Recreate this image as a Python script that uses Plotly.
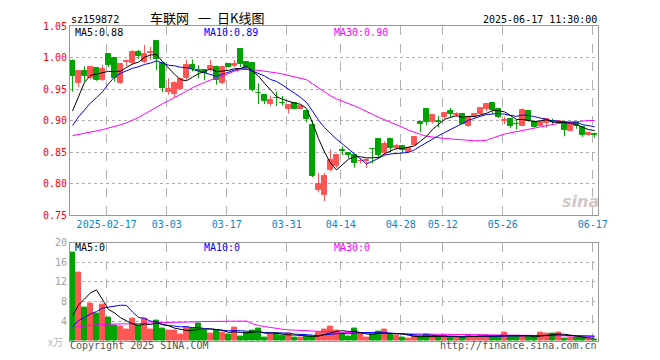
import plotly.graph_objects as go
import pandas as pd

# ---------------- data ----------------
dates = ("02-07 02-10 02-11 02-12 02-13 02-14 02-17 02-18 02-19 02-20 02-21 02-24 02-25 02-26 02-27 02-28 "
         "03-03 03-04 03-05 03-06 03-07 03-10 03-11 03-12 03-13 03-14 03-17 03-18 03-19 03-20 03-21 "
         "03-24 03-25 03-26 03-27 03-28 03-31 04-01 04-02 04-03 04-07 04-08 04-09 04-10 04-11 "
         "04-14 04-15 04-16 04-17 04-18 04-21 04-22 04-23 04-24 04-25 04-28 04-29 04-30 "
         "05-06 05-07 05-08 05-09 05-12 05-13 05-14 05-15 05-16 05-19 05-20 05-21 05-22 05-23 "
         "05-26 05-27 05-28 05-29 05-30 06-03 06-04 06-05 06-06 06-09 06-10 06-11 06-12 06-13 "
         "06-16 06-17").split()

open_ = [0.994, 0.960, 0.979, 0.967, 0.984, 0.965, 1.005, 1.000, 0.959, 0.993,
         0.992, 1.008, 0.993, 1.007, 1.026, 0.992, 0.946, 0.942, 0.950, 0.967,
         0.988, 0.980, 0.980, 0.981, 0.985, 0.960, 0.990, 0.987, 1.013, 0.993,
         0.991, 0.944, 0.940, 0.926, 0.936, 0.928, 0.918, 0.927, 0.919, 0.915,
         0.893, 0.790, 0.782, 0.821, 0.827, 0.853, 0.849, 0.846, 0.835, 0.836,
         0.855, 0.871, 0.848, 0.871, 0.857, 0.859, 0.850, 0.861, 0.897, 0.918,
         0.897, 0.899, 0.906, 0.915, 0.909, 0.911, 0.892, 0.907, 0.910, 0.919,
         0.927, 0.918, 0.900, 0.902, 0.895, 0.892, 0.915, 0.898, 0.892, 0.896,
         0.900, 0.897, 0.897, 0.884, 0.896, 0.890, 0.877, 0.878]
high = [0.997, 0.979, 0.986, 0.986, 0.985, 0.988, 1.006, 1.001, 0.990, 0.997,
        1.012, 1.012, 1.020, 1.017, 1.026, 0.993, 0.967, 0.962, 0.967, 0.996,
        0.997, 0.988, 0.981, 0.996, 0.987, 0.987, 0.991, 0.996, 1.013, 0.994,
        0.992, 0.959, 0.941, 0.939, 0.946, 0.939, 0.925, 0.928, 0.925, 0.916,
        0.900, 0.817, 0.817, 0.854, 0.847, 0.859, 0.850, 0.847, 0.840, 0.840,
        0.856, 0.872, 0.867, 0.872, 0.863, 0.860, 0.857, 0.875, 0.899, 0.918,
        0.909, 0.907, 0.913, 0.920, 0.913, 0.912, 0.907, 0.912, 0.921, 0.928,
        0.928, 0.920, 0.906, 0.903, 0.901, 0.919, 0.916, 0.899, 0.898, 0.904,
        0.903, 0.900, 0.898, 0.895, 0.897, 0.891, 0.881, 0.881]
low = [0.946, 0.953, 0.962, 0.965, 0.963, 0.963, 0.985, 0.962, 0.958, 0.986,
       0.989, 0.998, 0.991, 0.996, 0.980, 0.945, 0.941, 0.936, 0.949, 0.964,
       0.978, 0.967, 0.964, 0.978, 0.957, 0.958, 0.984, 0.985, 0.985, 0.981,
       0.946, 0.926, 0.926, 0.923, 0.923, 0.924, 0.911, 0.918, 0.918, 0.897,
       0.810, 0.786, 0.772, 0.819, 0.825, 0.845, 0.840, 0.825, 0.832, 0.825,
       0.832, 0.842, 0.845, 0.850, 0.853, 0.849, 0.849, 0.860, 0.881, 0.893,
       0.895, 0.889, 0.903, 0.905, 0.906, 0.894, 0.890, 0.905, 0.909, 0.915,
       0.911, 0.904, 0.894, 0.888, 0.886, 0.891, 0.898, 0.889, 0.891, 0.889,
       0.893, 0.895, 0.875, 0.883, 0.887, 0.874, 0.876, 0.873]
close = [0.970, 0.978, 0.970, 0.985, 0.965, 0.982, 0.988, 0.967, 0.990, 0.994,
         1.009, 1.003, 1.006, 1.008, 0.998, 0.952, 0.950, 0.959, 0.966, 0.988,
         0.981, 0.978, 0.976, 0.987, 0.965, 0.985, 0.985, 0.989, 0.989, 0.983,
         0.949, 0.943, 0.931, 0.932, 0.935, 0.927, 0.925, 0.919, 0.923, 0.902,
         0.812, 0.800, 0.8125, 0.837, 0.846, 0.851, 0.846, 0.833, 0.836, 0.837,
         0.854, 0.846, 0.863, 0.857, 0.859, 0.853, 0.856, 0.874, 0.894, 0.897,
         0.908, 0.898, 0.912, 0.910, 0.910, 0.895, 0.906, 0.910, 0.920, 0.926,
         0.917, 0.905, 0.9005, 0.892, 0.894, 0.917, 0.899, 0.890, 0.897, 0.903,
         0.898, 0.899, 0.885, 0.894, 0.892, 0.877, 0.880, 0.877]
volume = [18.0, 14.0, 6.7, 7.7, 5.5, 7.5, 4.7, 3.1, 2.9, 2.3,
          4.5, 3.1, 4.5, 2.3, 4.1, 2.5, 2.1, 2.1, 1.3, 2.7,
          2.5, 3.5, 2.1, 1.5, 2.1, 1.7, 1.3, 2.7, 0.9, 1.7,
          2.1, 2.5, 0.7, 1.3, 1.5, 1.1, 1.5, 0.7, 0.7, 0.9,
          0.9, 1.7, 2.3, 2.9, 2.1, 1.5, 0.9, 2.5, 1.5, 0.7,
          1.3, 1.9, 2.3, 1.3, 1.1, 0.7, 0.5, 1.1, 0.9, 1.3,
          1.1, 0.7, 1.1, 0.7, 0.9, 0.7, 1.1, 0.9, 1.1, 1.1,
          0.9, 0.9, 1.7, 0.9, 0.9, 0.9, 0.9, 0.7, 1.7, 1.5,
          1.5, 1.7, 0.5, 0.7, 0.7, 0.7, 0.5, 0.3]

# history before the visible window, estimated from where the MA lines start
prior_close = [0.925, 0.93, 0.92, 0.915, 0.91, 0.905, 0.90, 0.905, 0.90, 0.90,
               0.86, 0.84, 0.83, 0.82, 0.815, 0.81, 0.815, 0.82, 0.82, 0.82,
               0.84, 0.86, 0.875, 0.88, 0.89, 0.86, 0.86, 0.93, 0.955]
prior_volume = [3.2, 4.0, 3.8, 3.4, 3.6, 3.7, 3.5,
                2.4, 2.0, 1.8, 2.2, 1.6, 1.9, 2.1, 1.7, 1.8, 2.0, 1.6, 1.9, 1.8,
                0.5, 0.4, 0.6, 0.5, 0.5,
                2.8, 0.8, 1.3, 2.6]

tick_dates = ["02-17", "03-03", "03-17", "03-31", "04-14", "04-28", "05-12", "05-26", "06-17"]
tick_labels = ["2025-02-17", "03-03", "03-17", "03-31", "04-14", "04-28", "05-12", "05-26", "06-17"]
price_ticks = [0.75, 0.80, 0.85, 0.90, 0.95, 1.00, 1.05]
vol_ticks = [4, 8, 12, 16, 20]

# ---------------- styling ----------------
RED = "#ff5555"
GREEN = "#00a400"
GRID = "#b0b0b0"
BORDER = "#999999"
XLAB = "#0a84d2"
MONO = "DejaVu Sans Mono"
CJK = "Noto Sans CJK SC"
OFF = 8                      # the page places the figure 8 px in from the top-left
W, H = 660 - OFF, 360 - OFF
L, R, T, B = 62, 62, 12, 19
PW, PH = W - L - R, H - T - B

n = len(dates)
xs = list(range(n))
up = [c >= o for o, c in zip(open_, close)]

cl = pd.Series(prior_close + close)
vo = pd.Series(prior_volume + volume)
k = len(prior_close)
ma = {w: cl.rolling(w).mean().iloc[k:].tolist() for w in (5, 10, 30)}
vma = {w: vo.rolling(w).mean().iloc[k:].tolist() for w in (5, 10, 30)}

fig = go.Figure()

# wicks
for flag, col in ((True, RED), (False, GREEN)):
    wx, wy = [], []
    for i in xs:
        if up[i] == flag:
            wx += [i, i, None]
            wy += [low[i], high[i], None]
    fig.add_trace(go.Scatter(x=wx, y=wy, mode="lines", line=dict(color=col, width=1),
                             hoverinfo="skip", xaxis="x", yaxis="y"))

# bodies
for flag, col in ((True, RED), (False, GREEN)):
    idx = [i for i in xs if up[i] == flag]
    fig.add_trace(go.Bar(
        x=idx,
        base=[min(open_[i], close[i]) for i in idx],
        y=[max(abs(close[i] - open_[i]), 0.0008) for i in idx],
        width=0.7, marker=dict(color=col, line=dict(color=col, width=1)),
        xaxis="x", yaxis="y"))

# price moving averages
for w, col in ((30, "#ff00ff"), (10, "#0000ff"), (5, "#000000")):
    fig.add_trace(go.Scatter(x=xs, y=ma[w], mode="lines", line=dict(color=col, width=1),
                             xaxis="x", yaxis="y"))

# volume
vcol = [RED if u else GREEN for u in up]
fig.add_trace(go.Bar(x=xs, y=volume, width=0.75,
                     marker=dict(color=vcol, line=dict(color=vcol, width=1)),
                     xaxis="x2", yaxis="y2"))
for w, col in ((30, "#ff00ff"), (10, "#0000ff"), (5, "#000000")):
    fig.add_trace(go.Scatter(x=xs, y=vma[w], mode="lines", line=dict(color=col, width=1),
                             xaxis="x2", yaxis="y2"))

tickvals = [dates.index(d) - 0.3 for d in tick_dates]
xr = [-0.42, n - 0.42]

common_x = dict(range=xr, showgrid=True, gridcolor=GRID, griddash="dash", gridwidth=1,
                showline=True, mirror=True, linecolor=BORDER, linewidth=1,
                zeroline=False, ticks="", tickvals=tickvals, fixedrange=True)
common_y = dict(showgrid=True, gridcolor=GRID, griddash="dot", gridwidth=1,
                showline=True, mirror=True, linecolor=BORDER, linewidth=1,
                zeroline=False, ticks="", fixedrange=True)

fig.update_layout(
    width=W, height=H, margin=dict(l=L, r=R, t=T, b=B),
    paper_bgcolor="white", plot_bgcolor="white", showlegend=False,
    barmode="overlay", bargap=0,
    font=dict(family=MONO, size=10, color="#000"),
    xaxis=dict(common_x, domain=[0, 1], anchor="y", ticktext=tick_labels,
               tickfont=dict(family=MONO, size=10, color=XLAB)),
    yaxis=dict(common_y, domain=[0.4, 1.0], anchor="x", range=[0.75, 1.05],
               tickvals=price_ticks, ticktext=[f"{v:.2f}" for v in price_ticks],
               tickfont=dict(family=MONO, size=10, color="#ff0000")),
    xaxis2=dict(common_x, domain=[0, 1], anchor="y2", showticklabels=False),
    yaxis2=dict(common_y, domain=[0, 0.3125], anchor="x2", range=[0, 20],
                tickvals=vol_ticks, ticktext=[str(v) for v in vol_ticks],
                tickfont=dict(family=MONO, size=10, color="#a0a0a0")),
)


def px(x):
    return (x - OFF - L) / PW


def py(y):
    return (H - B - (y - OFF)) / PH


def note(text, x, y, color="#000", size=10, xanchor="left", family=MONO):
    fig.add_annotation(text=text, x=px(x), y=py(y), xref="paper", yref="paper",
                       xanchor=xanchor, yanchor="middle", showarrow=False,
                       font=dict(family=family, size=size, color=color), borderpad=0)


note("sz159872", 70, 13)
note("车联网", 169.5, 11.5, size=13, xanchor="center", family=CJK)
note("一", 204, 11.5, size=13, xanchor="center", family=CJK)
note("日K线图", 240.5, 11.5, size=13, xanchor="center", family=CJK)
note("2025-06-17 11:30:00", 598, 13, xanchor="right")

note(f"MA5:{ma[5][-1]:.2f}", 74, 26.5)
note(f"MA10:{ma[10][-1]:.2f}", 203, 26.5, color="#0000ff")
note(f"MA30:{ma[30][-1]:.2f}", 333, 26.5, color="#ff00ff")

note("MA5:0", 74, 246)
note("MA10:0", 203, 246, color="#0000ff")
note("MA30:0", 333, 246, color="#ff00ff")

note("x万", 64, 341, color="#b8b8b8", size=10, xanchor="right", family=CJK)
note("Copyright 2025 SINA.COM", 69, 346, color="#555555")
note("http://finance.sina.com.cn", 598, 346, color="#555555", xanchor="right")
note("<b><i>sina</i></b>", 580, 199, color="#d2c8c8", size=16, xanchor="center",
     family="DejaVu Sans")

fig.write_html("out.html")
